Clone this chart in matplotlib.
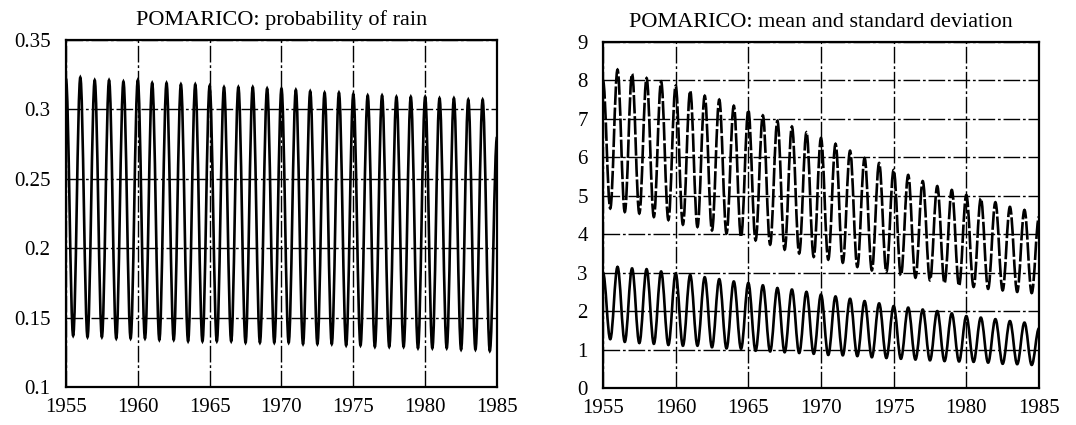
import numpy as np
import matplotlib
matplotlib.use("Agg")
import matplotlib.pyplot as plt
from matplotlib.path import Path
from matplotlib.patches import PathPatch

plt.rcParams['font.family'] = ['Liberation Serif', 'DejaVu Serif']

# ---------------- data ----------------
years = list(range(1955, 1985))          # each year: peak near Jan, trough near mid-year
end_year = 1985

# probability of rain
prob_peaks = [0.322, 0.323, 0.321, 0.321, 0.320, 0.321, 0.319, 0.319, 0.318, 0.318,
              0.317, 0.316, 0.316, 0.316, 0.315, 0.315, 0.314, 0.313, 0.312, 0.312,
              0.311, 0.310, 0.310, 0.309, 0.309, 0.309, 0.308, 0.308, 0.307, 0.307]
prob_troughs = [0.137, 0.136, 0.136, 0.135, 0.135, 0.135, 0.134, 0.134, 0.133, 0.133,
                0.133, 0.133, 0.132, 0.132, 0.132, 0.132, 0.131, 0.131, 0.131, 0.130,
                0.130, 0.129, 0.129, 0.129, 0.128, 0.128, 0.128, 0.127, 0.127, 0.126]
prob_end = 0.28

# mean
mean_peaks = [8.00, 8.28, 8.17, 8.06, 7.97, 7.86, 7.73, 7.60, 7.50, 7.34,
              7.23, 7.09, 6.95, 6.80, 6.65, 6.50, 6.35, 6.17, 5.98, 5.85,
              5.67, 5.54, 5.38, 5.25, 5.15, 5.02, 4.93, 4.83, 4.71, 4.63]
mean_troughs = [4.67, 4.58, 4.54, 4.45, 4.37, 4.25, 4.19, 4.10, 4.02, 3.93,
                3.84, 3.73, 3.60, 3.50, 3.41, 3.34, 3.26, 3.15, 3.06, 3.02,
                2.93, 2.87, 2.80, 2.73, 2.66, 2.63, 2.58, 2.54, 2.50, 2.47]
mean_end = 4.45

# standard deviation
std_peaks = [3.00, 3.15, 3.11, 3.09, 3.03, 2.98, 2.94, 2.88, 2.83, 2.77,
             2.73, 2.67, 2.60, 2.56, 2.50, 2.43, 2.38, 2.32, 2.26, 2.20,
             2.13, 2.09, 2.04, 2.00, 1.94, 1.87, 1.83, 1.79, 1.74, 1.70]
std_troughs = [1.27, 1.20, 1.17, 1.15, 1.12, 1.10, 1.10, 1.06, 1.03, 1.02,
               0.97, 0.95, 0.93, 0.91, 0.89, 0.86, 0.85, 0.83, 0.80, 0.78,
               0.76, 0.74, 0.72, 0.70, 0.69, 0.68, 0.66, 0.63, 0.62, 0.60]
std_end = 1.55

xticks = [1955, 1960, 1965, 1970, 1975, 1980, 1985]
left_yticks = [0.1, 0.15, 0.2, 0.25, 0.3, 0.35]
left_ylabels = ['0.1', '0.15', '0.2', '0.25', '0.3', '0.35']
right_yticks = [0, 1, 2, 3, 4, 5, 6, 7, 8, 9]
titles = ['POMARICO: probability of rain', 'POMARICO: mean and standard deviation']


def extremes(peaks, troughs, end_val):
    t, v = [], []
    for y, p, q in zip(years, peaks, troughs):
        t += [y, y + 0.5]
        v += [p, q]
    t.append(end_year)
    v.append(end_val)
    return t, v


def smooth_path(t, v, k=0.3634):
    """Cubic Bezier through extremes with horizontal tangents (sine-like)."""
    verts = [(t[0], v[0])]
    codes = [Path.MOVETO]
    for i in range(len(t) - 1):
        dt = t[i + 1] - t[i]
        verts += [(t[i] + k * dt, v[i]), (t[i + 1] - k * dt, v[i + 1]), (t[i + 1], v[i + 1])]
        codes += [Path.CURVE4] * 3
    return Path(verts, codes)


fig = plt.figure(figsize=(10.76, 4.25), dpi=100)
axL = fig.add_axes([0.0613, 0.0894, 0.4006, 0.8165])
axR = fig.add_axes([0.5604, 0.0871, 0.4052, 0.8141])

grid_ls = (0, (12, 2, 2, 2))
for ax in (axL, axR):
    ax.set_xlim(1955, 1985)
    ax.set_xticks(xticks)
    ax.set_xticklabels([str(x) for x in xticks])
    ax.grid(True, color='black', linestyle=grid_ls, linewidth=1.0)
    ax.set_axisbelow(True)
    for s in ax.spines.values():
        s.set_linewidth(1.6)
        s.set_color('black')
    ax.tick_params(axis='both', length=0, labelsize=15, colors='black')
    ax.tick_params(axis='x', pad=8)
    ax.tick_params(axis='y', pad=11)

# left panel
axL.set_ylim(0.1, 0.35)
axL.set_yticks(left_yticks)
axL.set_yticklabels(left_ylabels)
t, v = extremes(prob_peaks, prob_troughs, prob_end)
axL.add_patch(PathPatch(smooth_path(t, v), fill=False, edgecolor='black', linewidth=1.9))
axL.set_title(titles[0], fontsize=16, pad=11)

# right panel
axR.set_ylim(0, 9)
axR.set_yticks(right_yticks)
axR.set_yticklabels([str(y) for y in right_yticks])
t, v = extremes(mean_peaks, mean_troughs, mean_end)
axR.add_patch(PathPatch(smooth_path(t, v), fill=False, edgecolor='black',
                        linewidth=1.9, linestyle=(0, (7, 1.0))))
t, v = extremes(std_peaks, std_troughs, std_end)
axR.add_patch(PathPatch(smooth_path(t, v), fill=False, edgecolor='black', linewidth=1.9))
axR.set_title(titles[1], fontsize=16, pad=11)

fig.savefig('out.png', dpi=100)
